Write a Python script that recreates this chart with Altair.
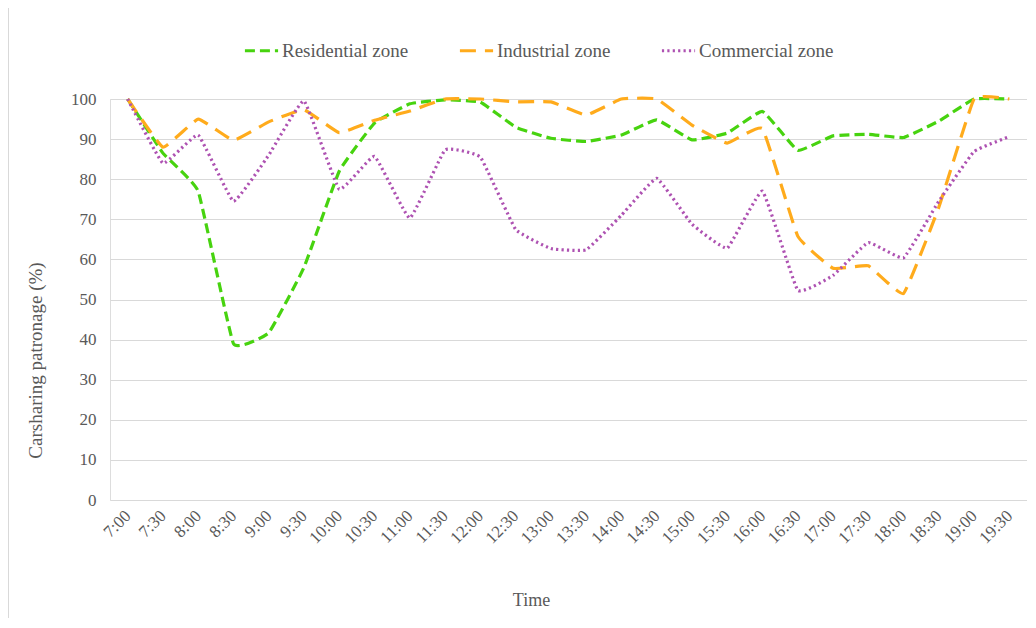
import altair as alt
import pandas as pd

times = ["7:00", "7:30", "8:00", "8:30", "9:00", "9:30", "10:00", "10:30", "11:00", "11:30",
         "12:00", "12:30", "13:00", "13:30", "14:00", "14:30", "15:00", "15:30", "16:00", "16:30",
         "17:00", "17:30", "18:00", "18:30", "19:00", "19:30"]

residential = [100, 86.5, 77, 39, 41.7, 58, 82, 94, 98.8, 99.8,
               99.2, 93, 90.2, 89.4, 91, 94.8, 89.8, 91.5, 96.9, 87.2,
               90.8, 91.2, 90.4, 94.5, 100, 100]
industrial = [100, 88, 95, 89.7, 94.3, 97.3, 91.6, 94.7, 97, 100,
              100, 99.3, 99.3, 96, 100, 100, 93.5, 89, 92.6, 65.8,
              57.8, 58.4, 51.5, 73, 100, 100]
commercial = [100, 84, 91, 74.5, 86, 99.5, 77.5, 85.7, 70.3, 87.3,
              85.5, 67.5, 62.7, 62.4, 71, 80.2, 68.8, 62.8, 77, 52.3,
              56, 64.2, 60.4, 74.5, 86.9, 90.6]

zones = ["Residential zone", "Industrial zone", "Commercial zone"]
zone_colors = ["#47d30f", "#ffab1c", "#ae52b2"]
zone_dashes = [[10, 5], [16, 9], [2.2, 3.2]]
y_ticks = [0, 10, 20, 30, 40, 50, 60, 70, 80, 90, 100]

rows = []
for zone, series in zip(zones, [residential, industrial, commercial]):
    for t, v in zip(times, series):
        rows.append({"Time": t, "Zone": zone, "Value": v})
df = pd.DataFrame(rows)

FONT = "Liberation Serif"
TXT = "#595959"

lines = alt.Chart(df).mark_line(
    interpolate="cardinal", tension=0.7, strokeWidth=3.2, strokeCap="butt"
).encode(
    x=alt.X("Time:O", sort=times,
            axis=alt.Axis(title="Time", labelAngle=-45, labelAlign="right",
                          labelBaseline="middle", labelPadding=13, ticks=False,
                          domain=False, grid=False, labelFont=FONT, labelFontSize=17,
                          labelColor=TXT, titleFont=FONT, titleFontSize=18,
                          titleFontWeight="normal", titleColor=TXT,
                          titleX=421, titleY=100, titleBaseline="middle",
                          titleAnchor="start", titleAlign="center")),
    y=alt.Y("Value:Q", scale=alt.Scale(domain=[0, 100], nice=False),
            axis=alt.Axis(title="Carsharing patronage (%)", values=y_ticks,
                          ticks=False, domain=False, grid=True, gridColor="#d9d9d9",
                          labelFont=FONT, labelFontSize=17, labelColor=TXT,
                          labelPadding=14, titleFont=FONT, titleFontSize=19,
                          titleFontWeight="normal", titleColor=TXT,
                          titleX=-75, titleY=261, titleAlign="center",
                          titleBaseline="middle", titleAngle=-90)),
    color=alt.Color("Zone:N", scale=alt.Scale(domain=zones, range=zone_colors),
                    sort=zones,
                    legend=alt.Legend(title=None, orient="none", legendX=133, legendY=-67,
                                      direction="horizontal", symbolType="stroke",
                                      symbolSize=1100, symbolStrokeWidth=3,
                                      labelFont=FONT, labelFontSize=19, labelColor=TXT,
                                      labelOffset=2, columnPadding=44)),
    strokeDash=alt.StrokeDash("Zone:N", scale=alt.Scale(domain=zones, range=zone_dashes),
                              sort=zones, legend=None),
)

border = alt.Chart(pd.DataFrame({"a": [0]})).mark_rule(color="#d9d9d9", strokeWidth=1).encode(
    x=alt.value(-101.5), y=alt.value(-91), y2=alt.value(520)
)

chart = alt.layer(border, lines).properties(
    width=917, height=401,
    padding={"left": 102, "top": 91, "right": 0, "bottom": 118},
    autosize=alt.AutoSizeParams(type="none"),
).configure_view(stroke=None).configure(background="white")

chart.save("out.html", embed_options={"renderer": "svg", "actions": False})
